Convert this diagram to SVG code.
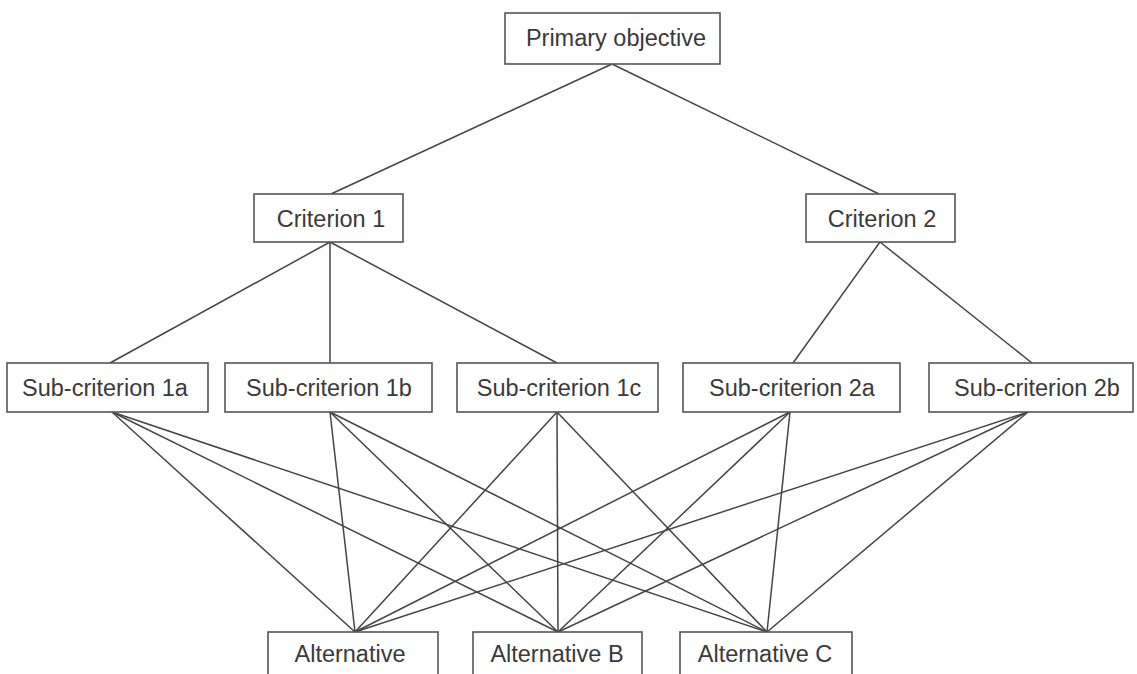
<svg xmlns="http://www.w3.org/2000/svg" width="1137" height="674" viewBox="0 0 1137 674">
<style>
.box{fill:#fff;stroke:#555;stroke-width:1.6}
.lbl{font-family:"Liberation Sans",Arial,sans-serif;font-size:23.5px;fill:#3a3a3a;text-anchor:middle}
.con line{stroke:#444;stroke-width:1.5}
</style>
<rect width="1137" height="674" fill="#fff"/>
<g class="con">
<line x1="612" y1="64" x2="331" y2="194"/>
<line x1="612" y1="64" x2="879" y2="194"/>
<line x1="330" y1="242" x2="110" y2="363"/>
<line x1="330" y1="242" x2="330" y2="363"/>
<line x1="330" y1="242" x2="557" y2="363"/>
<line x1="880" y1="242" x2="793" y2="363"/>
<line x1="880" y1="242" x2="1032" y2="363"/>
<line x1="112" y1="412" x2="355" y2="632"/>
<line x1="112" y1="412" x2="558" y2="632"/>
<line x1="112" y1="412" x2="767" y2="632"/>
<line x1="330" y1="412" x2="355" y2="632"/>
<line x1="330" y1="412" x2="558" y2="632"/>
<line x1="330" y1="412" x2="767" y2="632"/>
<line x1="557" y1="412" x2="355" y2="632"/>
<line x1="557" y1="412" x2="558" y2="632"/>
<line x1="557" y1="412" x2="767" y2="632"/>
<line x1="790" y1="412" x2="355" y2="632"/>
<line x1="790" y1="412" x2="558" y2="632"/>
<line x1="790" y1="412" x2="767" y2="632"/>
<line x1="1028" y1="412" x2="355" y2="632"/>
<line x1="1028" y1="412" x2="558" y2="632"/>
<line x1="1028" y1="412" x2="767" y2="632"/>
</g>
<g id="primary"><rect class="box" x="505" y="13" width="215" height="51"/><text class="lbl" x="616" y="46">Primary objective</text></g>
<g id="crit1"><rect class="box" x="254" y="194" width="149" height="48"/><text class="lbl" x="331" y="227">Criterion 1</text></g>
<g id="crit2"><rect class="box" x="806" y="194" width="149" height="48"/><text class="lbl" x="882" y="227">Criterion 2</text></g>
<g id="sub1a"><rect class="box" x="7" y="363" width="201" height="49"/><text class="lbl" x="105" y="396">Sub-criterion 1a</text></g>
<g id="sub1b"><rect class="box" x="225" y="363" width="207" height="49"/><text class="lbl" x="329" y="396">Sub-criterion 1b</text></g>
<g id="sub1c"><rect class="box" x="457" y="363" width="201" height="49"/><text class="lbl" x="559" y="396">Sub-criterion 1c</text></g>
<g id="sub2a"><rect class="box" x="683" y="363" width="217" height="49"/><text class="lbl" x="792" y="396">Sub-criterion 2a</text></g>
<g id="sub2b"><rect class="box" x="929" y="363" width="204" height="49"/><text class="lbl" x="1037" y="396">Sub-criterion 2b</text></g>
<g id="altA"><rect class="box" x="268" y="632" width="170" height="60"/><text class="lbl" x="350" y="662">Alternative</text></g>
<g id="altB"><rect class="box" x="473" y="632" width="169" height="60"/><text class="lbl" x="557" y="662">Alternative B</text></g>
<g id="altC"><rect class="box" x="680" y="632" width="172" height="60"/><text class="lbl" x="765" y="662">Alternative C</text></g>
</svg>
